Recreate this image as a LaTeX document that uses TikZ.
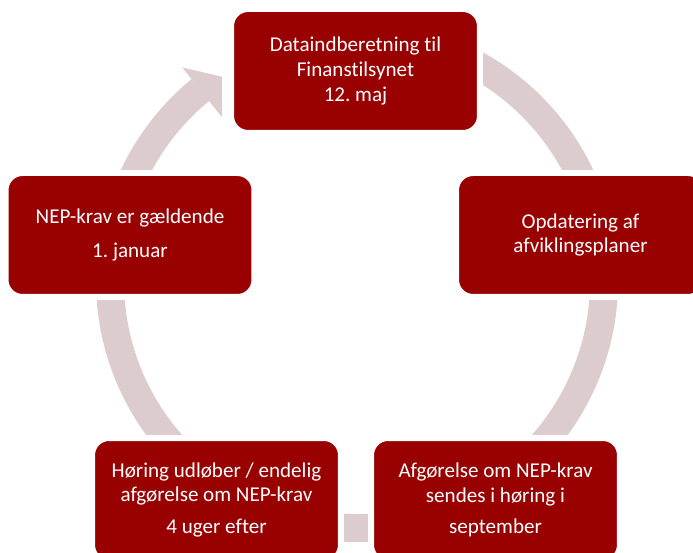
\documentclass[tikz,border=0pt]{standalone}
\usepackage{fontspec}
\setmainfont{Carlito}[Ligatures=NoCommon]
\frenchspacing
\usepackage{tikz}
\usetikzlibrary{calc}
\definecolor{boxred}{RGB}{153,0,0}
\definecolor{ringgray}{RGB}{221,204,205}
\tikzset{
  phase/.style   = {shape=rectangle, rounded corners=0.34cm,
                    draw=white, line width=0.12cm, fill=boxred,
                    text=white, align=center, inner sep=0pt,
                    minimum width=4.98cm, minimum height=2.48cm,
                    font=\fontsize{12}{14}\selectfont},
  ring/.style    = {draw=ringgray, line width=0.56cm},
  ringtip/.style = {fill=ringgray}
}

\begin{document}
\begin{tikzpicture}[x=0.02cm, y=0.02cm]
  \useasboundingbox (0,0) rectangle (693,553);
  \coordinate (c) at (357,272);

  % the cycle ring, one arrow head at the top
  \draw [ring] ($(c)+(95:247)$) arc [start angle=95, end angle=-230.7, radius=247];
  \fill [ringtip] ($(c)+(129.3:276)$) -- ($(c)+(123.5:245)$)
                  -- ($(c)+(129.5:212)$) -- cycle;

  \node [phase] (data) at (355.5,482) {Dataindberetning til\\Finanstilsynet\\12. maj};
  \node [phase] (opd)  at (580.5,318) {Opdatering af\\afviklingsplaner};
  \node [phase] (afg)  at (495.5,53)  {Afgørelse om NEP-krav\\sendes i høring i\\[4pt]september};
  \node [phase] (hor)  at (216.5,53)  {Høring udløber / endelig\\afgørelse om NEP-krav\\[4pt]4 uger efter};
  \node [phase] (nep)  at (130,318)   {NEP-krav er gældende\\[5pt]1. januar};
\end{tikzpicture}
\end{document}
